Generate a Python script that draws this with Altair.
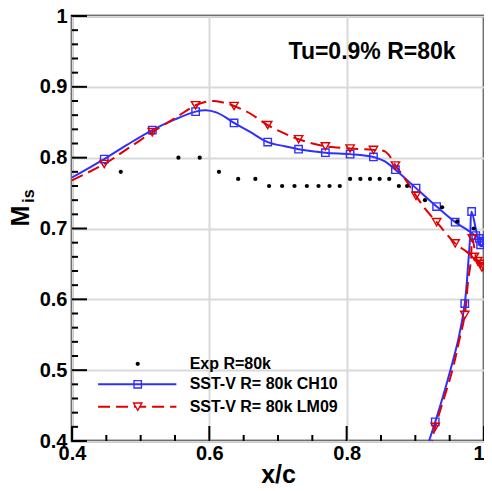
import altair as alt
import pandas as pd

# ---------------- data ----------------
exp_x = [0.471, 0.555, 0.586, 0.614, 0.642, 0.667, 0.687, 0.706, 0.724, 0.742, 0.759, 0.775,
         0.790, 0.805, 0.820, 0.834, 0.848, 0.862, 0.876, 0.888, 0.914, 0.939, 0.961, 0.985]
exp_y = [0.78, 0.80, 0.80, 0.78, 0.77, 0.77, 0.76, 0.76, 0.76, 0.76, 0.76, 0.76,
         0.76, 0.77, 0.77, 0.77, 0.77, 0.77, 0.76, 0.76, 0.74, 0.73, 0.71, 0.70]

ch10_x = [0.400, 0.447, 0.480, 0.517, 0.550, 0.580, 0.595, 0.610, 0.622, 0.636, 0.660, 0.685,
          0.710, 0.730, 0.769, 0.805, 0.839, 0.855, 0.871, 0.885, 0.901, 0.931, 0.958, 0.977,
          0.990, 1.000, 0.995, 0.982, 0.980, 0.977, 0.972, 0.963, 0.951, 0.940, 0.929, 0.920]
ch10_y = [0.772, 0.798, 0.818, 0.839, 0.854, 0.865, 0.867, 0.864, 0.858, 0.849, 0.836, 0.822,
          0.816, 0.812, 0.807, 0.805, 0.801, 0.795, 0.783, 0.771, 0.757, 0.731, 0.709, 0.697,
          0.688, 0.682, 0.676, 0.724, 0.690, 0.650, 0.594, 0.545, 0.500, 0.462, 0.427, 0.400]

ch10_mx = [0.447, 0.517, 0.580, 0.636, 0.685, 0.730, 0.769, 0.805, 0.839, 0.871, 0.901, 0.931,
           0.958, 0.982, 0.988, 0.993, 0.997, 1.000, 0.995, 0.972, 0.929]
ch10_my = [0.798, 0.839, 0.865, 0.849, 0.822, 0.812, 0.807, 0.805, 0.801, 0.783, 0.757, 0.731,
           0.709, 0.724, 0.690, 0.686, 0.682, 0.680, 0.677, 0.594, 0.427]

lm09_x = [0.400, 0.447, 0.480, 0.517, 0.550, 0.580, 0.595, 0.607, 0.620, 0.636, 0.660, 0.685,
          0.710, 0.730, 0.769, 0.805, 0.839, 0.857, 0.871, 0.885, 0.901, 0.915, 0.931, 0.958,
          0.975, 0.990, 1.000, 0.993, 0.983, 0.981, 0.977, 0.972, 0.963, 0.954, 0.940, 0.929, 0.924]
lm09_y = [0.768, 0.791, 0.812, 0.836, 0.856, 0.874, 0.879, 0.880, 0.878, 0.873, 0.862, 0.846,
          0.834, 0.826, 0.816, 0.813, 0.811, 0.808, 0.789, 0.770, 0.746, 0.727, 0.709, 0.679,
          0.667, 0.655, 0.648, 0.646, 0.686, 0.655, 0.627, 0.578, 0.538, 0.500, 0.455, 0.420, 0.400]

lm09_mx = [0.447, 0.517, 0.580, 0.636, 0.685, 0.730, 0.769, 0.805, 0.839, 0.871, 0.901, 0.931,
           0.958, 0.983, 0.986, 0.991, 0.995, 0.999, 0.997, 0.972, 0.929]
lm09_my = [0.791, 0.836, 0.874, 0.873, 0.846, 0.826, 0.816, 0.813, 0.811, 0.789, 0.746, 0.709,
           0.679, 0.686, 0.660, 0.654, 0.650, 0.647, 0.645, 0.578, 0.420]

x_ticks = [0.4, 0.6, 0.8, 1.0]
y_ticks = [0.4, 0.5, 0.6, 0.7, 0.8, 0.9, 1.0]
x_minor = [0.45, 0.5, 0.55, 0.65, 0.7, 0.75, 0.85, 0.9, 0.95]
y_minor = [0.42, 0.44, 0.46, 0.48, 0.52, 0.54, 0.56, 0.58, 0.62, 0.64, 0.66, 0.68,
           0.72, 0.74, 0.76, 0.78, 0.82, 0.84, 0.86, 0.88, 0.92, 0.94, 0.96, 0.98]

legend_labels = ["Exp R=80k", "SST-V R= 80k CH10", "SST-V R= 80k LM09"]
legend_y = [0.509, 0.480, 0.4485]
legend_x0, legend_x1, legend_xm, legend_xt = 0.438, 0.552, 0.4957, 0.5713

annot_text = "Tu=0.9% R=80k"
annot_x, annot_y = 0.837, 0.949

BLUE = "#2f2fff"
RED = "#e00000"
FONT = "Liberation Sans"
W, H = 412, 425
PADL = 64

# ---------------- scales / axes ----------------
xs = alt.Scale(domain=[0.4, 1.0], nice=False, zero=False)
ys = alt.Scale(domain=[0.4, 1.0], nice=False, zero=False)

xaxis = alt.Axis(values=x_ticks, format="~g", ticks=False, domain=False, grid=True,
                 gridColor="#d9d9d9", gridWidth=2, labelFlush=False,
                 labelAlign={"condition": {"test": "datum.value >= 1", "value": "right"},
                             "value": "center"},
                 labelFont=FONT, labelFontWeight="bold", labelFontSize=20, labelColor="black",
                 labelPadding=2, title="x/c", titleFont=FONT, titleFontWeight="bold",
                 titleFontSize=25, titleColor="black", titleX=W / 2, titleY=41,
                 titleBaseline="alphabetic")
yaxis = alt.Axis(values=y_ticks, format="~g", ticks=False, domain=False, grid=True,
                 gridColor="#d9d9d9", gridWidth=2, labelFlush=False,
                 labelFont=FONT, labelFontWeight="bold", labelFontSize=20, labelColor="black",
                 labelPadding=5, labelBaseline="middle", title=None)


def X(f):
    return alt.X(f, type="quantitative", scale=xs, axis=xaxis)


def Y(f):
    return alt.Y(f, type="quantitative", scale=ys, axis=yaxis)


df_ch10 = pd.DataFrame({"x": ch10_x, "y": ch10_y, "i": range(len(ch10_x))})
df_lm09 = pd.DataFrame({"x": lm09_x, "y": lm09_y, "i": range(len(lm09_x))})
df_ch10m = pd.DataFrame({"x": ch10_mx, "y": ch10_my})
df_lm09m = pd.DataFrame({"x": lm09_mx, "y": lm09_my})
df_exp = pd.DataFrame({"x": exp_x, "y": exp_y})

exp_layer = alt.Chart(df_exp).mark_point(filled=True, color="black", size=18, opacity=1).encode(
    x=X("x"), y=Y("y"))

ch10_line = alt.Chart(df_ch10).mark_line(color=BLUE, strokeWidth=2, interpolate="catmull-rom").encode(
    x=X("x"), y=Y("y"), order="i:Q")
lm09_line = alt.Chart(df_lm09).mark_line(color=RED, strokeWidth=2, strokeDash=[12, 6],
                                         interpolate="catmull-rom").encode(
    x=X("x"), y=Y("y"), order="i:Q")
ch10_pts = alt.Chart(df_ch10m).mark_point(shape="square", filled=False, color=BLUE, size=55,
                                          strokeWidth=1.4, opacity=1).encode(x=X("x"), y=Y("y"))
lm09_pts = alt.Chart(df_lm09m).mark_point(shape="triangle-down", filled=False, color=RED, size=70,
                                          strokeWidth=1.4, opacity=1).encode(x=X("x"), y=Y("y"))

# inward ticks
df_xmaj = pd.DataFrame({"x": x_ticks})
df_xmin = pd.DataFrame({"x": x_minor})
df_ymaj = pd.DataFrame({"y": y_ticks})
df_ymin = pd.DataFrame({"y": y_minor})
xmaj = alt.Chart(df_xmaj).mark_rule(color="black", strokeWidth=2).encode(
    x=X("x"), y=alt.value(H), y2=alt.value(H - 15))
xmin = alt.Chart(df_xmin).mark_rule(color="black", strokeWidth=2).encode(
    x=X("x"), y=alt.value(H), y2=alt.value(H - 6))
ymaj = alt.Chart(df_ymaj).mark_rule(color="black", strokeWidth=2).encode(
    y=Y("y"), x=alt.value(0), x2=alt.value(15))
ymin = alt.Chart(df_ymin).mark_rule(color="black", strokeWidth=2).encode(
    y=Y("y"), x=alt.value(0), x2=alt.value(6))

# legend
df_leg_line = pd.DataFrame({"x": [legend_x0] * 2, "x2": [legend_x1] * 2, "y": legend_y[1:]})
leg_blue = alt.Chart(df_leg_line.iloc[[0]]).mark_rule(color=BLUE, strokeWidth=2).encode(
    x=X("x"), x2="x2", y=Y("y"))
leg_red = alt.Chart(df_leg_line.iloc[[1]]).mark_rule(color=RED, strokeWidth=2, strokeDash=[12, 6]).encode(
    x=X("x"), x2="x2", y=Y("y"))
leg_dot = alt.Chart(pd.DataFrame({"x": [legend_xm], "y": [legend_y[0]]})).mark_point(
    filled=True, color="black", size=18, opacity=1).encode(x=X("x"), y=Y("y"))
leg_sq = alt.Chart(pd.DataFrame({"x": [legend_xm], "y": [legend_y[1]]})).mark_point(
    shape="square", filled=False, color=BLUE, size=55, strokeWidth=1.4, opacity=1).encode(
    x=X("x"), y=Y("y"))
leg_tri = alt.Chart(pd.DataFrame({"x": [legend_xm], "y": [legend_y[2]]})).mark_point(
    shape="triangle-down", filled=False, color=RED, size=70, strokeWidth=1.4, fill="white",
    opacity=1).encode(x=X("x"), y=Y("y"))
leg_text = alt.Chart(pd.DataFrame({"x": [legend_xt] * 3, "y": legend_y, "t": legend_labels})).mark_text(
    align="left", baseline="middle", font=FONT, fontWeight="bold", fontSize=16, color="black").encode(
    x=X("x"), y=Y("y"), text="t:N")

annot = alt.Chart(pd.DataFrame({"x": [annot_x], "y": [annot_y], "t": [annot_text]})).mark_text(
    align="center", baseline="middle", font=FONT, fontWeight="bold", fontSize=23, color="black").encode(
    x=X("x"), y=Y("y"), text="t:N")

# y-axis title M_is
ytitle_m = alt.Chart(pd.DataFrame({"t": ["M"]})).mark_text(
    align="center", baseline="middle", angle=270, font=FONT, fontWeight="bold", fontSize=25,
    color="black").encode(x=alt.value(20.5 - 8 - PADL), y=alt.value(200), text="t:N")
ytitle_s = alt.Chart(pd.DataFrame({"t": ["is"]})).mark_text(
    align="center", baseline="middle", angle=270, font=FONT, fontWeight="bold", fontSize=16,
    color="black").encode(x=alt.value(29 - 8 - PADL), y=alt.value(180), text="t:N")

chart = alt.layer(
    ch10_line, lm09_line, ch10_pts, lm09_pts, exp_layer,
    xmaj, xmin, ymaj, ymin,
    leg_blue, leg_red, leg_dot, leg_sq, leg_tri, leg_text, annot, ytitle_m, ytitle_s
).properties(
    width=W, height=H,
    padding={"left": PADL, "top": 8, "right": 0, "bottom": 44},
    autosize=alt.AutoSizeParams(type="none"),
    background="white",
).configure_view(stroke="black", strokeWidth=2.5)

chart.save("out.html", embed_options={"renderer": "svg", "actions": False})
